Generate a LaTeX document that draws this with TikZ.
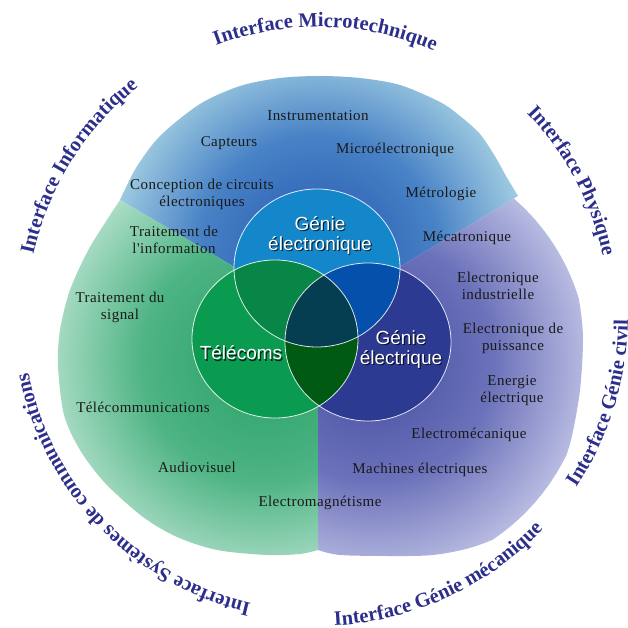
\documentclass[tikz,border=0pt]{standalone}
\usepackage{fontspec}
\setmainfont{Liberation Serif}
\newfontfamily\domfont[LetterSpace=3.0]{Liberation Serif}
\newfontfamily\vennfont{Liberation Sans}
\usetikzlibrary{decorations.text}

\definecolor{bleuIn}{RGB}{36,84,172}
\definecolor{bleuMid}{RGB}{72,130,198}
\definecolor{bleuOut}{RGB}{166,209,227}
\definecolor{vertIn}{RGB}{40,160,100}
\definecolor{vertMid}{RGB}{78,180,132}
\definecolor{vertOut}{RGB}{172,221,199}
\definecolor{violIn}{RGB}{66,74,158}
\definecolor{violMid}{RGB}{108,114,186}
\definecolor{violOut}{RGB}{184,187,225}
\definecolor{gElec}{RGB}{20,134,202}
\definecolor{gTel}{RGB}{10,154,80}
\definecolor{gElq}{RGB}{44,58,146}
\definecolor{gElecTel}{RGB}{8,134,72}
\definecolor{gElecElq}{RGB}{4,80,170}
\definecolor{gTelElq}{RGB}{0,90,20}
\definecolor{gTous}{RGB}{4,62,80}
\definecolor{ifBlue}{RGB}{44,46,140}

\pgfdeclareradialshading{lobeBleu}{\pgfpoint{0bp}{0bp}}{color(0bp)=(bleuIn); color(14bp)=(bleuMid); color(25bp)=(bleuOut); color(50bp)=(bleuOut)}
\pgfdeclareradialshading{lobeVert}{\pgfpoint{0bp}{0bp}}{color(0bp)=(vertIn); color(14bp)=(vertMid); color(25bp)=(vertOut); color(50bp)=(vertOut)}
\pgfdeclareradialshading{lobeViol}{\pgfpoint{0bp}{0bp}}{color(0bp)=(violIn); color(14bp)=(violMid); color(25bp)=(violOut); color(50bp)=(violOut)}

\tikzset{
	dom/.style={font=\domfont\fontsize{15}{17}\selectfont, text=black!90, align=center, inner sep=0pt},
	venn/.style={font=\vennfont\fontsize{19}{20}\selectfont, text=white, align=center, inner sep=0pt},
	vennshadow/.style={venn, text=black, text opacity=0.75},
	vennline/.style={draw=white, line width=0.8pt, draw opacity=0.85},
	iface/.style={decorate, decoration={text along path, text align=center, text color=ifBlue,
			text={|\bfseries\fontsize{20.5}{24}\selectfont|#1}}}
}

\begin{document}
\begin{tikzpicture}[x=1pt,y=1pt]
	\def\rx{83pt}
	\def\ry{79pt}
	\fill[white] (-318,-312) rectangle (310,316);
	\useasboundingbox (-318,-312) rectangle (310,316);
	
	\coordinate (O) at (0,0);
	%centres des cercles
	\coordinate (cE) at (-1,48);
	\coordinate (cT) at (-43,-23);
	\coordinate (cG) at (50,-26);
	
	%Lobes
	%bleu (haut)
	\begin{scope}
		\clip (O) -- plot[smooth] coordinates {(-198,116) (-182,148) (-158,180) (-118,212) (-78,230) (-38,238) (2,240) (42,238) (82,231) (122,214) (142,200) (162,182) (178,158) (188,140) (200,120)} -- cycle;
		\shade[shading=lobeBleu] (0,60) circle (215pt);
	\end{scope}
	%vert (gauche)
	\begin{scope}
		\clip (O) -- plot[smooth] coordinates {(-198,116) (-228,69) (-248,26) (-258,-14) (-260,-50) (-254,-99) (-238,-134) (-213,-167) (-175,-201) (-141,-221) (-101,-234) (-51,-239) (-18,-238) (0,-234)} -- cycle;
		\shade[shading=lobeVert] (-55,-45) circle (215pt);
	\end{scope}
	%violet (droite)
	\begin{scope}
		\clip (O) -- plot[smooth] coordinates {(0,-234) (22,-239) (72,-240) (115,-239) (155,-231) (195,-214) (222,-190) (240,-160) (253,-124) (262,-74) (265,-24) (262,10) (254,48) (235,86) (200,120)} -- cycle;
		\shade[shading=lobeViol] (55,-45) circle (215pt);
	\end{scope}
	
	%Cercles
	\fill[gElec] (cE) ellipse [x radius=\rx, y radius=\ry];
	\fill[gTel] (cT) ellipse [x radius=\rx, y radius=\ry];
	\fill[gElq] (cG) ellipse [x radius=\rx, y radius=\ry];
	\begin{scope}
		\clip (cE) ellipse [x radius=\rx, y radius=\ry];
		\fill[gElecTel] (cT) ellipse [x radius=\rx, y radius=\ry];
		\fill[gElecElq] (cG) ellipse [x radius=\rx, y radius=\ry];
	\end{scope}
	\begin{scope}
		\clip (cT) ellipse [x radius=\rx, y radius=\ry];
		\fill[gTelElq] (cG) ellipse [x radius=\rx, y radius=\ry];
		\clip (cE) ellipse [x radius=\rx, y radius=\ry];
		\fill[gTous] (cG) ellipse [x radius=\rx, y radius=\ry];
	\end{scope}
	\draw[vennline] (cE) ellipse [x radius=\rx, y radius=\ry];
	\draw[vennline] (cT) ellipse [x radius=\rx, y radius=\ry];
	\draw[vennline] (cG) ellipse [x radius=\rx, y radius=\ry];
	
	%Domaines
	\node[dom] (instr) at (0,200) {Instrumentation};
	\node[dom] (capt) at (-89,173) {Capteurs};
	\node[dom] (micro) at (77,166) {Microélectronique};
	\node[dom] (concep) at (-116,122) {Conception de circuits\\électroniques};
	\node[dom] (metro) at (123,122) {Métrologie};
	\node[dom] (meca) at (149,78) {Mécatronique};
	\node[dom] (trinfo) at (-144,76) {Traitement de\\l'information};
	\node[dom] (trsig) at (-198,9) {Traitement du\\signal};
	\node[dom] (telecom) at (-175,-91) {Télécommunications};
	\node[dom] (audio) at (-121,-151) {Audiovisuel};
	\node[dom] (emag) at (2,-187) {Electromagnétisme};
	\node[dom] (elind) at (180,30) {Electronique\\industrielle};
	\node[dom] (elpuis) at (195,-22) {Electronique de\\puissance};
	\node[dom] (energ) at (194,-75) {Energie\\électrique};
	\node[dom] (emeca) at (151,-119) {Electromécanique};
	\node[dom] (mach) at (102,-154) {Machines électriques};
	
	%Titres des cercles
	\node[vennshadow, xshift=1.2pt, yshift=-1.5pt] (geS) at (2,81) {Génie\\électronique};
	\node[venn] (ge) at (2,81) {Génie\\électronique};
	\node[vennshadow, xshift=1.2pt, yshift=-1.5pt] (telS) at (-77,-37) {Télécoms};
	\node[venn] (tel) at (-77,-37) {Télécoms};
	\node[vennshadow, xshift=1.2pt, yshift=-1.5pt] (gqS) at (83,-33) {Génie\\électrique};
	\node[venn] (gq) at (83,-33) {Génie\\électrique};
	
	%Interfaces
	\path[iface={Interface Microtechnique}] (128.5:289pt) arc[start angle=128.5, end angle=48.5, radius=289pt];
	\path[iface={Interface Informatique}] (188:291pt) arc[start angle=188, end angle=108, radius=291pt];
	\path[iface={Interface Physique}] (68:291pt) arc[start angle=68, end angle=-12, radius=291pt];
	\path[iface={Interface Systèmes de communications}] (264:295pt) arc[start angle=264, end angle=184, radius=295pt];
	\path[iface={Interface Génie mécanique}] (254.8:310pt) arc[start angle=254.8, end angle=334.8, radius=310pt];
	\path[iface={Interface Génie civil}] (302.8:310pt) arc[start angle=302.8, end angle=382.8, radius=310pt];
	
\end{tikzpicture}
\end{document}
